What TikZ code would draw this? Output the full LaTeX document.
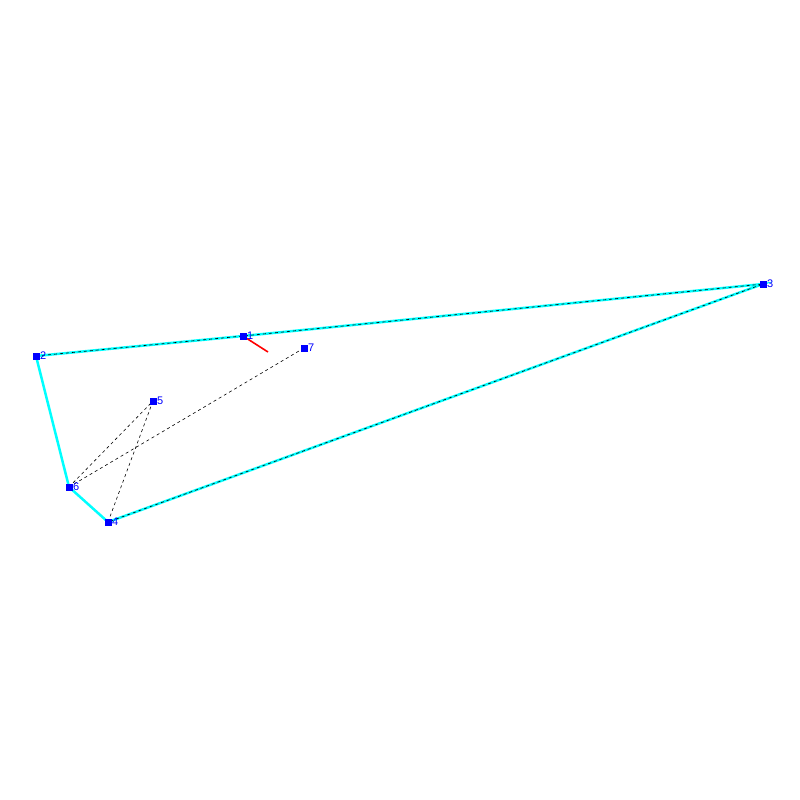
\documentclass[tikz,border=0pt]{standalone}
\usepackage{fontspec}
\setmainfont{Liberation Sans}
\definecolor{aqua}{RGB}{0,255,255}
\definecolor{ptblue}{RGB}{0,0,255}
\definecolor{redc}{RGB}{255,0,0}
\begin{document}
\begin{tikzpicture}[x=1pt,y=-1pt,
  pt/.style={fill=ptblue,inner sep=0pt,minimum size=7pt},
  lbl/.style={text=ptblue,font=\fontsize{11}{11}\selectfont,inner sep=0pt,anchor=west},
  edge/.style={aqua,line width=2.5pt},
  dsh/.style={black,line width=0.6pt,dash pattern=on 3pt off 3pt},
  redline/.style={redc,line width=1.6pt}]
\useasboundingbox (0,0) rectangle (800,800);
\node[pt] (n1) at (243,336) {};
\node[pt] (n2) at (36,356) {};
\node[pt] (n3) at (763,284) {};
\node[pt] (n4) at (108,522) {};
\node[pt] (n5) at (153,401) {};
\node[pt] (n6) at (69,487) {};
\node[pt] (n7) at (304,348) {};
\coordinate (r) at (268,352);
\draw[edge] (n2.center) -- (n1.center) -- (n3.center) -- (n4.center) -- (n6.center) -- (n2.center);
\draw[dsh] (n2.center) -- (n1.center) -- (n3.center) -- (n4.center);
\draw[dsh] (n6.center) -- (n5.center);
\draw[dsh] (n6.center) -- (n7.center);
\draw[dsh] (n4.center) -- (n5.center);
\draw[redline] (n1.center) -- (r);
\foreach \i in {1,...,7} {\node[pt] at (n\i) {};}
\node[lbl] at ([xshift=4pt]n1.center) {1};
\node[lbl] at ([xshift=4pt]n2.center) {2};
\node[lbl] at ([xshift=4pt]n3.center) {3};
\node[lbl] at ([xshift=4pt]n4.center) {4};
\node[lbl] at ([xshift=4pt]n5.center) {5};
\node[lbl] at ([xshift=4pt]n6.center) {6};
\node[lbl] at ([xshift=4pt]n7.center) {7};
\end{tikzpicture}
\end{document}
